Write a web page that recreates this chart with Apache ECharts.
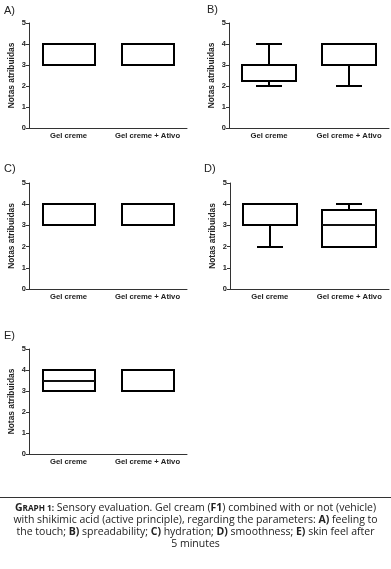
<!DOCTYPE html>
<html>
<head>
<meta charset="utf-8">
<script src="https://cdn.jsdelivr.net/npm/echarts@6/dist/echarts.min.js"></script>
<style>html,body{margin:0;padding:0;background:#fff}#c{width:391px;height:569px}</style>
</head>
<body>
<div id="c"></div>
<script>
// Categories and box values: [min, Q1, median, Q3, max]
const categories = ['Gel creme', 'Gel creme + Ativo'];
const panelA = [[3, 3, 3, 4, 4], [3, 3, 3, 4, 4]];
const panelB = [[2, 2.25, 3, 3, 4], [2, 3, 3, 4, 4]];
const panelC = [[3, 3, 3, 4, 4], [3, 3, 3, 4, 4]];
const panelD = [[2, 3, 3, 4, 4], [2, 2, 3, 3.75, 4]];
const panelE = [[3, 3, 3.5, 4, 4], [3, 3, 3, 4, 4]];
const panelLabels = ['A)', 'B)', 'C)', 'D)', 'E)'];
const yTicks = [0, 1, 2, 3, 4, 5];
const yName = 'Notas atribuidas';

const panels = [panelA, panelB, panelC, panelD, panelE];
const grids = [
  {left: 29, top: 23, width: 158, height: 105},
  {left: 229, top: 23, width: 160, height: 105},
  {left: 29, top: 183, width: 158, height: 106},
  {left: 230, top: 183, width: 159, height: 106},
  {left: 29, top: 349, width: 158, height: 105}
];
const labelPos = [[4, 5], [207, 4], [4, 163], [204, 163], [4, 330]];

function renderBox(params, api) {
  const c = api.value(0);
  const R = Math.round;
  const q1v = api.value(2), medv = api.value(3), q3v = api.value(4);
  const p0 = api.coord([c, api.value(1)]);
  const cx = R(p0[0]);
  const yMin = R(p0[1]);
  const q1 = R(api.coord([c, q1v])[1]);
  const med = R(api.coord([c, medv])[1]);
  const q3 = R(api.coord([c, q3v])[1]);
  const yMax = R(api.coord([c, api.value(5)])[1]);
  const band = api.size([1, 0])[0];
  const half = R(band * 0.335);
  const cap = R(half * 0.47);
  const st = {stroke: '#000', lineWidth: 2, fill: null};
  const ch = [];
  ch.push({type: 'line', shape: {x1: cx, y1: q1, x2: cx, y2: yMin}, style: st});
  ch.push({type: 'line', shape: {x1: cx - cap, y1: yMin, x2: cx + cap, y2: yMin}, style: st});
  ch.push({type: 'line', shape: {x1: cx, y1: q3, x2: cx, y2: yMax}, style: st});
  ch.push({type: 'line', shape: {x1: cx - cap, y1: yMax, x2: cx + cap, y2: yMax}, style: st});
  ch.push({type: 'rect', shape: {x: cx - half, y: q3, width: half * 2, height: q1 - q3},
           style: {stroke: '#000', lineWidth: 2, fill: '#fff'}});
  if (medv !== q1v && medv !== q3v) {
    ch.push({type: 'line', shape: {x1: cx - half, y1: med, x2: cx + half, y2: med},
             style: {stroke: '#111', lineWidth: 1.8}});
  }
  return {type: 'group', children: ch};
}

const xAxes = [], yAxes = [], series = [], graphics = [];
panels.forEach((p, i) => {
  xAxes.push({
    gridIndex: i, type: 'category', data: categories,
    axisLine: {lineStyle: {color: '#333', width: 1}},
    axisTick: {alignWithLabel: true, length: 3, lineStyle: {color: '#333'}},
    axisLabel: {interval: 0, fontSize: 7.7, fontWeight: 'bold', color: '#222', margin: 4, fontFamily: 'Liberation Sans'},
    splitLine: {show: false}
  });
  yAxes.push({
    gridIndex: i, type: 'value', min: yTicks[0], max: yTicks[yTicks.length - 1], interval: 1,
    name: yName, nameLocation: 'middle', nameGap: 13,
    nameTextStyle: {fontSize: 8.4, fontWeight: 'bold', color: '#222', fontFamily: 'Liberation Sans'},
    axisLine: {show: true, lineStyle: {color: '#333', width: 1}},
    axisTick: {show: true, length: 3, lineStyle: {color: '#333'}},
    axisLabel: {fontSize: 7.5, fontWeight: 'bold', color: '#222', margin: 3, fontFamily: 'Liberation Sans'},
    splitLine: {show: false}
  });
  series.push({
    type: 'custom', xAxisIndex: i, yAxisIndex: i,
    renderItem: renderBox,
    data: p.map((v, k) => [k].concat(v)),
    encode: {x: 0, y: [1, 2, 3, 4, 5]},
    silent: true
  });
  graphics.push({
    type: 'text', left: labelPos[i][0], top: labelPos[i][1],
    style: {text: panelLabels[i], fontSize: 11, fill: '#222', fontFamily: 'Liberation Sans'}
  });
});

graphics.push({type: 'line', shape: {x1: 0, y1: 497.5, x2: 391, y2: 497.5}, style: {stroke: '#333', lineWidth: 1}});
const capLines = [
  '{bb|G}{bs|RAPH 1:} Sensory evaluation. Gel cream ({b|F1}) combined with or not (vehicle)',
  'with shikimic acid (active principle), regarding the parameters: {b|A)} feeling to',
  'the touch; {b|B)} spreadability; {b|C)} hydration; {b|D)} smoothness; {b|E)} skin feel after',
  '5 minutes'
];
const capFont = 'Open Sans', capSize = 10.5;
capLines.forEach((t, k) => {
  graphics.push({
    type: 'text', x: 195.5, y: 508.5 + k * 11.7,
    style: {
      text: t, fontSize: capSize, fontFamily: capFont, fill: '#222',
      align: 'center', verticalAlign: 'middle',
      rich: {
        b: {fontSize: capSize, fontWeight: 'bold', fontFamily: capFont, fill: '#222'},
        bb: {fontSize: capSize, fontWeight: 'bold', fontFamily: capFont, fill: '#222'},
        bs: {fontSize: capSize * 0.78, fontWeight: 'bold', fontFamily: capFont, fill: '#222'}
      }
    }
  });
});

const chart = echarts.init(document.getElementById('c'), null, {renderer: 'canvas'});
chart.setOption({
  animation: false,
  backgroundColor: '#fff',
  grid: grids,
  xAxis: xAxes,
  yAxis: yAxes,
  series: series,
  graphic: graphics
});
</script>
</body>
</html>
